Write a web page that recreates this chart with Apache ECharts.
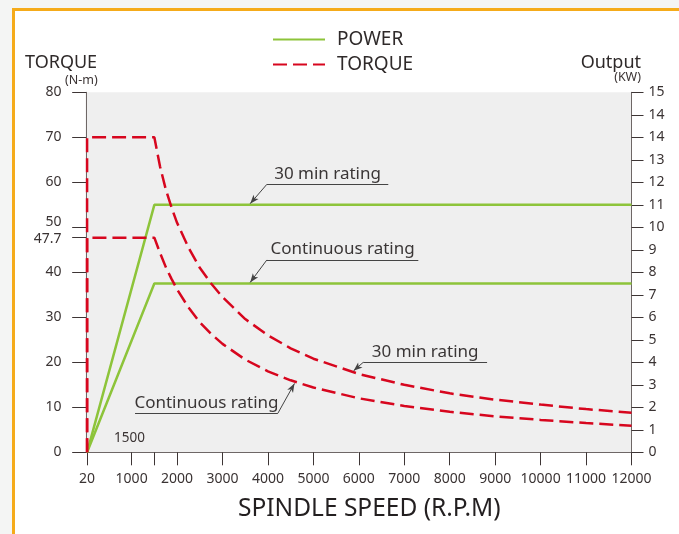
<!DOCTYPE html>
<html>
<head>
<meta charset="utf-8">
<title>Spindle power / torque</title>
<script src="https://cdn.jsdelivr.net/npm/echarts@6/dist/echarts.min.js"></script>
<style>
  html, body { margin: 0; padding: 0; }
  body { width: 679px; height: 534px; background: #f4f5f4; position: relative; overflow: hidden; }
  /* orange frame, only top + left edges visible */
  .frame {
    position: absolute; left: 12px; top: 8px; width: 720px; height: 600px;
    border-top: 3px solid #f5ab1a; border-left: 3px solid #f5ab1a;
    background: #fff;
  }
  #chart { position: absolute; left: 0; top: 0; width: 679px; height: 534px; }
</style>
</head>
<body>
<div class="frame"></div>
<div id="chart"></div>
<script>
// x axis (rpm)
const speedTicks = [20, 1000, 1500, 2000, 3000, 4000, 5000, 6000, 7000, 8000, 9000, 10000, 11000, 12000];
const speedLabels = [20, 1000, 2000, 3000, 4000, 5000, 6000, 7000, 8000, 9000, 10000, 11000, 12000];
// left axis (N-m)
const torqueTicks = [0, 10, 20, 30, 40, 47.7, 50, 60, 70, 80];
// right axis (KW) - labels as printed on the original
const outputLabels = ['0', '1', '2', '3', '4', '5', '6', '7', '8', '9', '10', '11', '12', '13', '14', '14', '15'];

// power curves [rpm, kW]
const power30 = [[20, 0], [1500, 11], [12000, 11]];
const powerCont = [[20, 0], [1500, 7.5], [12000, 7.5]];

// torque curves
const torqueSpeed = [20, 20, 1500, 1625, 1750, 1875, 2000, 2250, 2500, 2750, 3000, 3500, 4000, 4500, 5000, 6000, 7000, 8000, 9000, 10000, 11000, 12000];
const torque30 = [0, 70, 70, 63.5, 58.5, 54.5, 51, 45.5, 41, 37.5, 34.5, 29.6, 26, 23.1, 20.8, 17.4, 15, 13.1, 11.7, 10.6, 9.6, 8.8];
const torqueCont = [0, 47.7, 47.7, 44.3, 41.2, 38.6, 36.2, 32.2, 28.9, 26.3, 24.1, 20.6, 18, 16, 14.4, 12, 10.3, 9, 8, 7.2, 6.5, 5.9];

// callouts: [underline start, underline end, arrow tip] in data units
const callPower30 = [[3976, 11.91], [6648, 11.91], [3608, 11.05]];
const callPowerCont = [[3976, 8.55], [7309, 8.55], [3608, 7.55]];
const callTorque30 = [[6097, 20.0], [8822, 20.0], [5884, 18.1]];
const callTorqueCont = [[1075, 8.67], [4218, 8.67], [4584, 15.3]];

const GREEN = '#8dc43a';
const RED = '#d7061e';
const TXT = '#2f2a2a';
const LBL = '#3a3333';
const FONT = 'Noto Sans';

function zip(xs, ys) {
  return xs.map((x, i) => [x, ys[i]]);
}

// underline with text + leader with arrow
function callout(pts, text, leaderFromEnd) {
  const from = leaderFromEnd ? pts[1] : pts[0];
  return [
    [
      { coord: pts[0], symbol: 'none',
        label: { show: true, formatter: text, position: 'insideMiddleTop', distance: 2,
                 fontSize: 17, color: '#3a3636', fontFamily: FONT } },
      { coord: pts[1], symbol: 'none' }
    ],
    [
      { coord: from, symbol: 'none', label: { show: false } },
      { coord: pts[2], symbol: 'arrow', symbolSize: [5, 9] }
    ]
  ];
}

function markLines(list) {
  return {
    silent: true,
    animation: false,
    symbol: ['none', 'none'],
    lineStyle: { type: 'solid', color: '#444', width: 1 },
    label: { show: false },
    emphasis: { disabled: true },
    data: list
  };
}

const chart = echarts.init(document.getElementById('chart'), null, { renderer: 'canvas' });

const option = {
  animation: false,
  textStyle: { fontFamily: FONT },
  grid: {
    left: 85.5, right: 47.5, top: 92.3, bottom: 81.7,
    show: true, backgroundColor: '#efefef', borderWidth: 0
  },
  legend: {
    data: ['POWER', 'TORQUE'],
    orient: 'vertical',
    left: 272, top: 30,
    itemWidth: 52, itemHeight: 14, itemGap: 6,
    padding: 0,
    selectedMode: false,
    itemStyle: { opacity: 0 },
    textStyle: { fontSize: 19, color: TXT, fontFamily: FONT, padding: [0, 0, 0, 7] }
  },
  xAxis: {
    type: 'value', min: -15, max: 12000,
    splitLine: { show: false },
    axisLine: { show: true, lineStyle: { color: '#6e6766', width: 1 } },
    axisTick: { show: true, customValues: speedTicks, length: 13, lineStyle: { color: '#3d3535' } },
    axisLabel: {
      customValues: speedLabels, margin: 20, fontSize: 14, color: LBL, fontFamily: FONT,
      formatter: function (v) { return String(v); }
    }
  },
  yAxis: [
    {
      type: 'value', min: 0, max: 80, position: 'left',
      splitLine: { show: false },
      axisLine: { show: true, lineStyle: { color: '#6e6766', width: 1 } },
      axisTick: { show: true, customValues: torqueTicks, length: 14, lineStyle: { color: '#3d3535' } },
      axisLabel: {
        customValues: torqueTicks, margin: 24, fontSize: 14, color: LBL, fontFamily: FONT,
        formatter: function (v) {
          if (v === 50) return '{hi|50}';
          if (v === 47.7) return '{lo|47.7}';
          return String(v);
        },
        rich: {
          hi: { padding: [0, 0, 10, 0], fontSize: 14, color: LBL, fontFamily: FONT },
          lo: { padding: [3, 0, 0, 0], fontSize: 14, color: LBL, fontFamily: FONT }
        }
      }
    },
    {
      type: 'value', min: 0, max: 16, interval: 1, position: 'right',
      splitLine: { show: false },
      axisLine: { show: true, lineStyle: { color: '#6e6766', width: 1 } },
      axisTick: { show: true, length: 12, lineStyle: { color: '#3d3535' } },
      axisLabel: {
        margin: 17, fontSize: 14, color: LBL, fontFamily: FONT,
        formatter: function (v) { return outputLabels[v]; }
      }
    }
  ],
  series: [
    {
      name: 'POWER', type: 'line', yAxisIndex: 1, data: power30,
      symbol: 'none', silent: true,
      lineStyle: { color: GREEN, width: 2.5 }, itemStyle: { color: GREEN },
      markLine: markLines([].concat(callout(callPower30, '30 min rating'), callout(callPowerCont, 'Continuous rating')))
    },
    {
      name: 'POWER', type: 'line', yAxisIndex: 1, data: powerCont,
      symbol: 'none', silent: true,
      lineStyle: { color: GREEN, width: 2.5 }, itemStyle: { color: GREEN }
    },
    {
      name: 'TORQUE', type: 'line', yAxisIndex: 0, data: zip(torqueSpeed, torque30),
      symbol: 'none', silent: true,
      lineStyle: { color: RED, width: 2.5, type: [14, 6] }, itemStyle: { color: RED },
      markLine: markLines([].concat(callout(callTorque30, '30 min rating'), callout(callTorqueCont, 'Continuous rating', true))),
      markPoint: {
        silent: true, animation: false,
        symbol: 'circle', symbolSize: 1, itemStyle: { color: 'rgba(0,0,0,0)' },
        label: { show: true, position: 'inside', formatter: '1500', fontSize: 13.5, color: LBL, fontFamily: FONT },
        data: [{ coord: [954, 3.2] }]
      }
    },
    {
      name: 'TORQUE', type: 'line', yAxisIndex: 0, data: zip(torqueSpeed, torqueCont),
      symbol: 'none', silent: true,
      lineStyle: { color: RED, width: 2.5, type: [14, 6] }, itemStyle: { color: RED }
    }
  ],
  graphic: [
    { type: 'text', left: 25, top: 54, style: { text: 'TORQUE', fontSize: 18, fill: TXT, fontFamily: FONT } },
    { type: 'text', left: 65, top: 74, style: { text: '(N-m)', fontSize: 12.5, fill: LBL, fontFamily: FONT } },
    { type: 'text', right: 38, top: 54, style: { text: 'Output', fontSize: 18, fill: TXT, fontFamily: FONT } },
    { type: 'text', right: 38, top: 71, style: { text: '(KW)', fontSize: 12.5, fill: LBL, fontFamily: FONT } },
    { type: 'text', left: 238, top: 497, style: { text: 'SPINDLE SPEED (R.P.M)', fontSize: 24.5, fill: '#231f20', fontFamily: FONT } }
  ]
};

chart.setOption(option);
</script>
</body>
</html>
